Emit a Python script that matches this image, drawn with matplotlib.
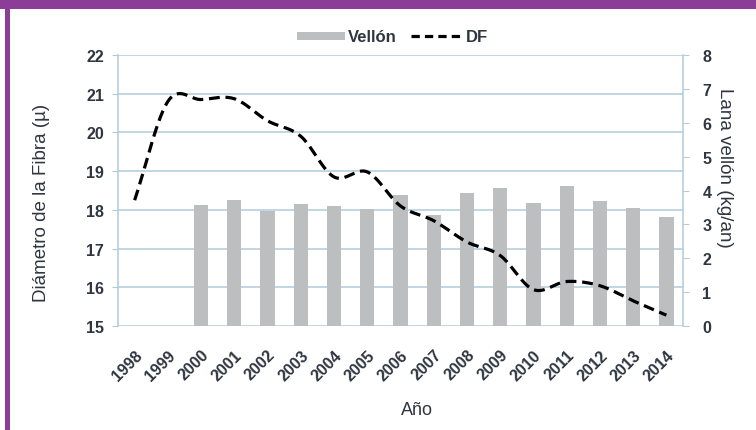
import numpy as np
import matplotlib
matplotlib.use("Agg")
import matplotlib.pyplot as plt
from matplotlib.patches import Rectangle
from matplotlib.lines import Line2D

years = ["1998", "1999", "2000", "2001", "2002", "2003", "2004", "2005", "2006",
         "2007", "2008", "2009", "2010", "2011", "2012", "2013", "2014"]
df_values = [18.25, 20.8, 20.85, 20.87, 20.3, 19.9, 18.85, 18.98, 18.1,
             17.72, 17.17, 16.82, 15.94, 16.15, 16.04, 15.65, 15.28]
bar_years = ["2000", "2001", "2002", "2003", "2004", "2005", "2006", "2007",
             "2008", "2009", "2010", "2011", "2012", "2013", "2014"]
vellon_values = [3.57, 3.72, 3.4, 3.6, 3.53, 3.45, 3.87, 3.28, 3.94, 4.06,
                 3.62, 4.14, 3.7, 3.48, 3.21]

plt.rcParams['font.family'] = ['Liberation Sans', 'DejaVu Sans']

text_c = "#2f3640"
grid_c = "#b2cadc"
bar_c = "#bcbec0"
purple = "#8c3d98"
W, H = 756, 431

fig = plt.figure(figsize=(W/100, H/100), dpi=100)
fig.patch.set_facecolor("white")

ax = fig.add_axes([118/W, 1-327/H, (683-118)/W, (327-56)/H])
ax2 = ax.twinx()

x = np.arange(len(years))
bx = [years.index(y) for y in bar_years]

ax2.bar(bx, vellon_values, width=0.43, color=bar_c, zorder=2)
ax2.set_ylim(0, 8)
ax2.set_yticks(range(0, 9))

def catmull(xs, ys, n=20):
    px = np.concatenate([[2*xs[0]-xs[1]], xs, [2*xs[-1]-xs[-2]]])
    py = np.concatenate([[2*ys[0]-ys[1]], ys, [2*ys[-1]-ys[-2]]])
    ox, oy = [], []
    for i in range(1, len(px)-2):
        t = np.linspace(0, 1, n, endpoint=False)
        for arr, out in ((px, ox), (py, oy)):
            p0, p1, p2, p3 = arr[i-1], arr[i], arr[i+1], arr[i+2]
            out.extend(0.5*((2*p1) + (-p0+p2)*t + (2*p0-5*p1+4*p2-p3)*t**2
                            + (-p0+3*p1-3*p2+p3)*t**3))
    ox.append(xs[-1]); oy.append(ys[-1])
    return np.array(ox), np.array(oy)

sx, sy = catmull(x.astype(float), np.array(df_values, dtype=float))

ax.set_zorder(ax2.get_zorder()+1)
ax.patch.set_visible(False)
ax.plot(sx, sy, color="black", lw=2.3, linestyle=(0, (3.4, 1.8)), zorder=3)
ax.set_ylim(15, 22)
ax.set_yticks(range(15, 23))
ax.set_xlim(-0.5, len(years)-0.5)
ax.set_xticks(x)
ax.set_xticklabels(years, rotation=45, ha="right", rotation_mode="anchor")

for v in range(15, 23):
    ax2.axhline((v-15)*8/7, color=grid_c, lw=1.1, zorder=1)

for a in (ax, ax2):
    for s in a.spines.values():
        s.set_visible(False)
ax.spines["left"].set_visible(True)
ax.spines["left"].set_color(grid_c)
ax.spines["left"].set_linewidth(1.1)
ax2.spines["right"].set_visible(True)
ax2.spines["right"].set_color(grid_c)
ax2.spines["right"].set_linewidth(1.1)

fw = "bold"
fs = 11.5
ax.tick_params(axis="y", colors=grid_c, labelcolor=text_c, labelsize=fs, length=4, pad=6)
ax.tick_params(axis="x", length=0, labelcolor=text_c, labelsize=fs, pad=15)
ax2.tick_params(axis="y", colors=grid_c, labelcolor=text_c, labelsize=fs, length=4, pad=10)
for lab in ax.get_xticklabels() + ax.get_yticklabels() + ax2.get_yticklabels():
    lab.set_fontweight(fw)

fig.text(417/W, 1-411/H, "Año", color=text_c, fontsize=13, ha="center", va="center")
fig.text(42/W, 1-203/H, "Diámetro de la Fibra (µ)", color=text_c, fontsize=13.5,
         rotation=90, ha="center", va="center")
fig.text(725/W, 1-168/H, "Lana vellón (kg/an)", color=text_c, fontsize=13.5,
         rotation=-90, ha="center", va="center")

# legend (drawn manually)
fig.add_artist(Rectangle((297/W, 1-41/H), 48/W, 8/H, transform=fig.transFigure,
                         facecolor=bar_c, edgecolor="none"))
fig.text(348/W, 1-37/H, "Vellón", color=text_c, fontsize=12, ha="left", va="center",
         fontweight=fw)
fig.add_artist(Line2D([411/W, 464/W], [1-37/H, 1-37/H], transform=fig.transFigure,
                      color="black", lw=2.3, linestyle=(0, (2.6, 1.6))))
fig.text(466/W, 1-37/H, "DF", color=text_c, fontsize=12, ha="left", va="center",
         fontweight=fw)

# purple frame
fig.add_artist(Rectangle((0, 1-10/H), 1, 10/H, transform=fig.transFigure,
                         facecolor=purple, edgecolor="none"))
fig.add_artist(Rectangle((5/W, 0), 5/W, 1, transform=fig.transFigure,
                         facecolor=purple, edgecolor="none"))

fig.savefig("out.png", dpi=100)
